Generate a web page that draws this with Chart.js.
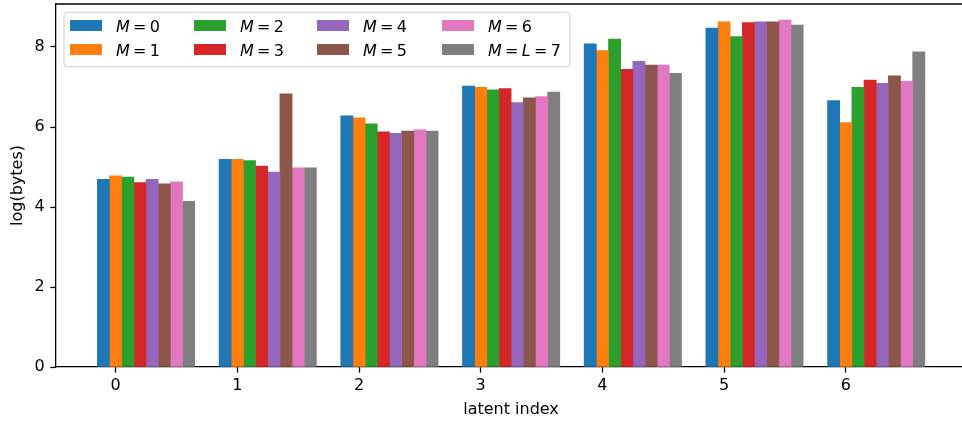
<!DOCTYPE html>
<html>
<head>
<meta charset="utf-8">
<title>log(bytes) per latent index</title>
<script src="https://cdn.jsdelivr.net/npm/chart.js@4/dist/chart.umd.min.js"></script>
<style>
  html, body { margin: 0; padding: 0; background: #ffffff; overflow: hidden; }
  #wrap { position: relative; width: 962px; height: 423px; }
</style>
</head>
<body>
<div id="wrap"><canvas id="chart" width="962" height="423"></canvas></div>
<script>
// Latent indices along the x axis (also the tick labels)
const latentIndex = [0, 1, 2, 3, 4, 5, 6];

// One series per value of M
const seriesLabels = ['M = 0', 'M = 1', 'M = 2', 'M = 3', 'M = 4', 'M = 5', 'M = 6', 'M = L = 7'];
const m0 = [4.69, 5.19, 6.28, 7.02, 8.08, 8.47, 6.66];
const m1 = [4.78, 5.19, 6.23, 6.99, 7.91, 8.63, 6.11];
const m2 = [4.75, 5.16, 6.08, 6.93, 8.20, 8.26, 6.99];
const m3 = [4.61, 5.02, 5.88, 6.96, 7.44, 8.61, 7.17];
const m4 = [4.69, 4.87, 5.84, 6.61, 7.64, 8.63, 7.09];
const m5 = [4.58, 6.83, 5.90, 6.73, 7.55, 8.63, 7.28];
const m6 = [4.63, 4.98, 5.93, 6.76, 7.55, 8.67, 7.14];
const m7 = [4.14, 4.98, 5.90, 6.87, 7.34, 8.55, 7.88];

// y tick values
const yTicks = [0, 2, 4, 6, 8];

const seriesValues = [m0, m1, m2, m3, m4, m5, m6, m7];
const colors = ['#1f77b4', '#ff7f0e', '#2ca02c', '#d62728', '#9467bd', '#8c564b', '#e377c2', '#7f7f7f'];

const FONT = '"DejaVu Sans", "Liberation Sans", sans-serif';
const BAR_STEP = 0.1;   // bar width in x units; bars of a group sit side by side

const datasets = seriesValues.map((vals, k) => ({
  label: seriesLabels[k],
  backgroundColor: colors[k],
  borderWidth: 0,
  grouped: false,
  barPercentage: 1,
  categoryPercentage: 1,
  data: vals.map((v, i) => ({ x: Math.round((latentIndex[i] + (k - 1) * BAR_STEP) * 100) / 100, y: v }))
}));

// Draws a label such as "M = L = 7" with italic letters, math style
function drawMathLabel(ctx, text, x, y) {
  const parts = text.split(' ');
  let cx = x;
  const gap = 3.3;
  parts.forEach((p, idx) => {
    ctx.font = (/^[A-Za-z]$/.test(p) ? 'italic ' : '') + '16px ' + FONT;
    ctx.fillText(p, cx, y);
    cx += ctx.measureText(p).width + (idx < parts.length - 1 ? gap : 0);
  });
}

// Keeps the plot area exactly where the layout puts it (no extra room for end labels)
function noScalePadding(s) {
  s.paddingTop = 0;
  s.paddingBottom = 0;
  s.paddingLeft = 0;
  s.paddingRight = 0;
}

const decorations = {
  id: 'decorations',
  afterDraw(chart) {
    const ctx = chart.ctx;
    const area = chart.chartArea;
    ctx.save();

    // top spine
    ctx.strokeStyle = '#000';
    ctx.lineWidth = 1.28;
    ctx.beginPath();
    ctx.moveTo(area.left - 0.64, area.top);
    ctx.lineTo(chart.width, area.top);
    ctx.stroke();

    // axis titles
    ctx.fillStyle = '#000';
    ctx.font = '16px ' + FONT;
    ctx.textAlign = 'center';
    ctx.textBaseline = 'alphabetic';
    ctx.fillText('latent index', 511, 414);
    ctx.save();
    ctx.translate(22, (area.top + area.bottom) / 2);
    ctx.rotate(-Math.PI / 2);
    ctx.fillText('log(bytes)', 0, 0);
    ctx.restore();

    // legend: 4 columns x 2 rows, filled column by column
    const fx = 64, fy = 12.3, fw = 506, fh = 54.4, r = 3.2;
    ctx.beginPath();
    ctx.moveTo(fx + r, fy);
    ctx.lineTo(fx + fw - r, fy);
    ctx.arcTo(fx + fw, fy, fx + fw, fy + r, r);
    ctx.lineTo(fx + fw, fy + fh - r);
    ctx.arcTo(fx + fw, fy + fh, fx + fw - r, fy + fh, r);
    ctx.lineTo(fx + r, fy + fh);
    ctx.arcTo(fx, fy + fh, fx, fy + fh - r, r);
    ctx.lineTo(fx, fy + r);
    ctx.arcTo(fx, fy, fx + r, fy, r);
    ctx.closePath();
    ctx.fillStyle = 'rgba(255,255,255,0.8)';
    ctx.fill();
    ctx.strokeStyle = '#cccccc';
    ctx.lineWidth = 1;
    ctx.stroke();

    const colX = [70, 194, 317, 442];
    const rowTop = [20, 44];
    const rowBase = [32.3, 56.0];
    ctx.textAlign = 'left';
    chart.data.datasets.forEach((ds, k) => {
      const c = Math.floor(k / 2), rr = k % 2;
      ctx.fillStyle = ds.backgroundColor;
      ctx.fillRect(colX[c], rowTop[rr], 32, 11);
      ctx.fillStyle = '#000';
      drawMathLabel(ctx, ds.label, colX[c] + 46, rowBase[rr]);
    });

    ctx.restore();
  }
};

new Chart(document.getElementById('chart'), {
  type: 'bar',
  data: { datasets },
  options: {
    responsive: false,
    animation: false,
    devicePixelRatio: 1,
    layout: { padding: { top: 4, left: 0, right: 0, bottom: 0 } },
    plugins: { legend: { display: false }, tooltip: { enabled: false } },
    scales: {
      x: {
        type: 'linear',
        min: -0.49,
        max: 6.955,
        offset: false,
        z: 1,
        afterBuildTicks: (s) => { s.ticks = latentIndex.map(v => ({ value: v })); },
        afterFit: (s) => { s.height = 56; noScalePadding(s); },
        grid: { display: true, offset: false, drawOnChartArea: false, drawTicks: true, tickLength: 5.6, tickWidth: 1.28, tickColor: '#000' },
        border: { display: true, color: '#000', width: 1.28 },
        ticks: { color: '#000', font: { family: FONT, size: 16 }, padding: 3.8, maxRotation: 0, autoSkip: false }
      },
      y: {
        type: 'linear',
        min: 0,
        max: 9.075,
        z: 1,
        afterBuildTicks: (s) => { s.ticks = yTicks.map(v => ({ value: v })); },
        afterFit: (s) => { s.width = 56; noScalePadding(s); },
        grid: { display: true, drawOnChartArea: false, drawTicks: true, tickLength: 5.6, tickWidth: 1.28, tickColor: '#000' },
        border: { display: true, color: '#000', width: 1.28 },
        ticks: { color: '#000', font: { family: FONT, size: 16 }, padding: 5.6 }
      }
    }
  },
  plugins: [decorations]
});
</script>
</body>
</html>
